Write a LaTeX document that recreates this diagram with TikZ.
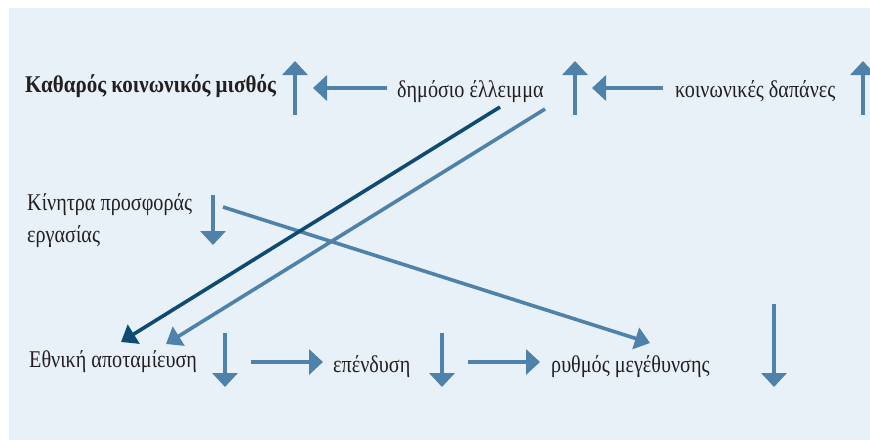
\documentclass[tikz,border=0pt]{standalone}
\usepackage{fontspec}
\setmainfont[FakeStretch=0.84]{Liberation Serif}
\newfontfamily\wagefont[FakeStretch=0.875]{Liberation Serif}
\usetikzlibrary{arrows.meta}
\definecolor{bgblue}{HTML}{E8F1F8}
\definecolor{midblue}{HTML}{4E82AA}
\definecolor{darkblue}{HTML}{0D4B72}
\definecolor{txt}{HTML}{231F20}
\tikzset{
  lbl/.style={anchor=base west, inner sep=0pt, text=txt, font=\fontsize{24}{30}\selectfont},
  bigarr/.style={line width=4pt, draw=midblue, -{Triangle[width=25pt 0 0,length=14pt 0 0]}},
  diagarr/.style={line width=3.6pt, -{Triangle[width=22pt 0 0,length=15pt 0 0]}},
}
\begin{document}
\begin{tikzpicture}[x=1pt,y=-1pt]
\useasboundingbox (0,0) rectangle (870,440);
\fill[bgblue] (9,8) rectangle (870,440);

% text nodes
\node[lbl, font=\fontsize{24}{30}\wagefont\bfseries] (wage) at (25,92) {Καθαρός κοινωνικός μισθός};
\node[lbl] (def) at (397,97) {δημόσιο έλλειμμα};
\node[lbl] (soc) at (675,97) {κοινωνικές δαπάνες};
\node[lbl, align=left] (inc) at (27,242) {Κίνητρα προσφοράς\\[2pt]εργασίας};
\node[lbl] (sav) at (29,367) {Εθνική αποταμίευση};
\node[lbl] (inv) at (333,372) {επένδυση};
\node[lbl] (gro) at (551,372) {ρυθμός μεγέθυνσης};

% arrow coordinates
\coordinate (a1s) at (295,115); \coordinate (a1e) at (295,61);
\coordinate (a2s) at (387,88);  \coordinate (a2e) at (313,88);
\coordinate (a3s) at (575,115); \coordinate (a3e) at (575,61);
\coordinate (a4s) at (663,88);  \coordinate (a4e) at (592,88);
\coordinate (a5s) at (863,115); \coordinate (a5e) at (863,61);
\coordinate (b1s) at (213,195); \coordinate (b1e) at (213,245);
\coordinate (c1s) at (225,333); \coordinate (c1e) at (225,387);
\coordinate (c2s) at (251,362); \coordinate (c2e) at (323,362);
\coordinate (c3s) at (442,333); \coordinate (c3e) at (442,387);
\coordinate (c4s) at (468,362); \coordinate (c4e) at (540,362);
\coordinate (c5s) at (774,304); \coordinate (c5e) at (774,387);
\coordinate (d1s) at (223,207); \coordinate (d1e) at (650,343);
\coordinate (d2s) at (500,107); \coordinate (d2e) at (121,342);
\coordinate (d3s) at (545,109); \coordinate (d3e) at (166,344);

\draw[bigarr] (a1s) -- (a1e);
\draw[bigarr] (a2s) -- (a2e);
\draw[bigarr] (a3s) -- (a3e);
\draw[bigarr] (a4s) -- (a4e);
\draw[bigarr] (a5s) -- (a5e);
\draw[bigarr] (b1s) -- (b1e);
\draw[bigarr] (c1s) -- (c1e);
\draw[bigarr] (c2s) -- (c2e);
\draw[bigarr] (c3s) -- (c3e);
\draw[bigarr] (c4s) -- (c4e);
\draw[bigarr] (c5s) -- (c5e);

\draw[diagarr, draw=midblue, fill=midblue] (d1s) -- (d1e);
\draw[diagarr, draw=midblue, fill=midblue] (d3s) -- (d3e);
\draw[diagarr, draw=darkblue, fill=darkblue] (d2s) -- (d2e);
\end{tikzpicture}
\end{document}
